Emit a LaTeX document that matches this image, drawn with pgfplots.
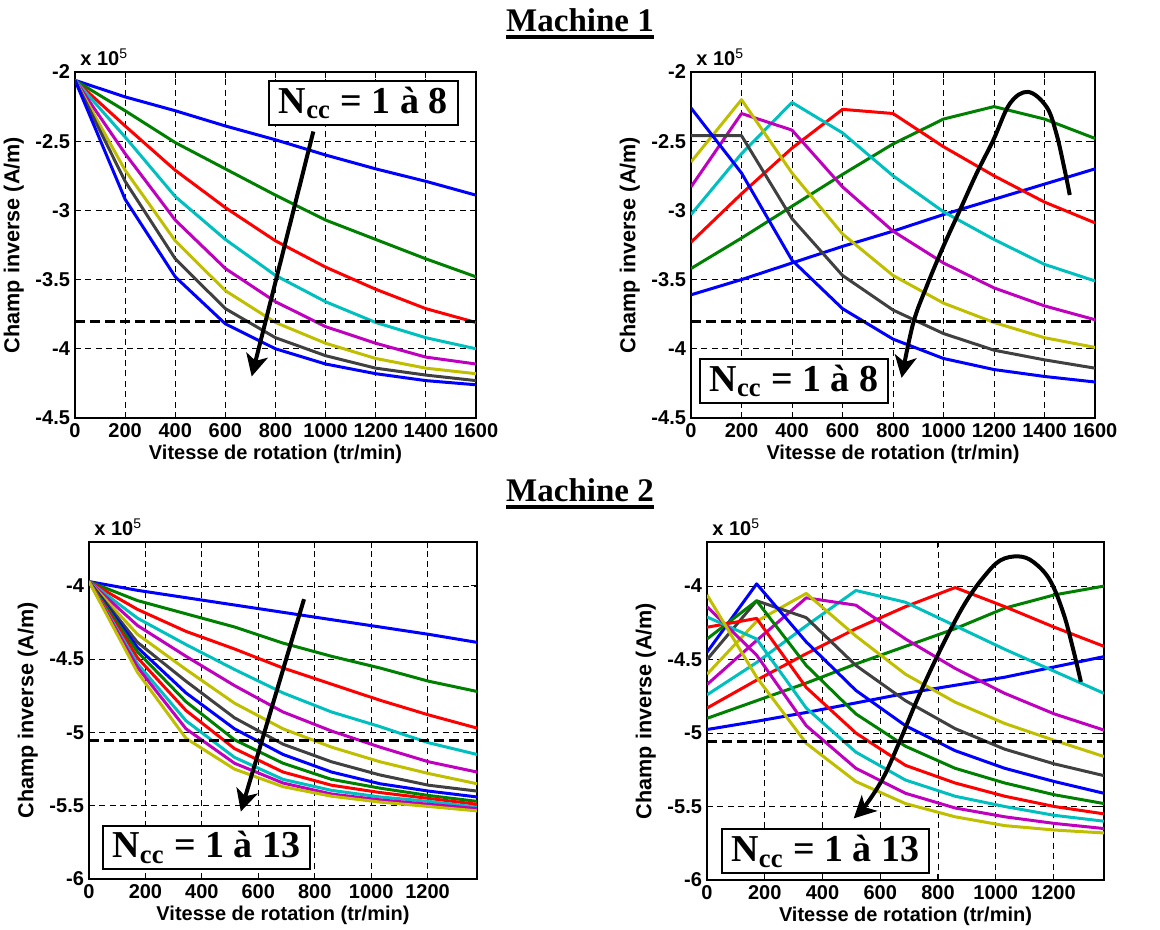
\documentclass[border=0pt]{standalone}
\usepackage{fontspec}
\setmainfont{Liberation Sans}
\newfontfamily\tnr{Liberation Serif}
\usepackage{pgfplots}
\pgfplotsset{compat=1.18}
\usepackage{pgfplotstable}
\usetikzlibrary{arrows.meta}

\definecolor{mb}{rgb}{0,0,1}
\definecolor{mg}{rgb}{0,0.5,0}
\definecolor{mr}{rgb}{1,0,0}
\definecolor{mc}{rgb}{0,0.75,0.75}
\definecolor{mm}{rgb}{0.75,0,0.75}
\definecolor{my}{rgb}{0.75,0.75,0}
\definecolor{mk}{rgb}{0.25,0.25,0.25}

\pgfplotscreateplotcyclelist{matlab}{%
{mb,line width=1.5pt},{mg,line width=1.5pt},{mr,line width=1.5pt},{mc,line width=1.5pt},%
{mm,line width=1.5pt},{my,line width=1.5pt},{mk,line width=1.5pt},{mb,line width=1.5pt},%
{mg,line width=1.5pt},{mr,line width=1.5pt},{mc,line width=1.5pt},{mm,line width=1.5pt},%
{my,line width=1.5pt}}

\pgfplotstableread{
x s1 s2 s3 s4 s5 s6 s7 s8
0    -2.06 -2.06 -2.06 -2.06 -2.06 -2.06 -2.06 -2.06
200  -2.18 -2.28 -2.39 -2.47 -2.59 -2.71 -2.79 -2.92
400  -2.28 -2.51 -2.71 -2.90 -3.07 -3.22 -3.35 -3.48
600  -2.39 -2.70 -2.98 -3.21 -3.42 -3.58 -3.71 -3.82
800  -2.49 -2.89 -3.22 -3.47 -3.66 -3.81 -3.92 -4.00
1000 -2.60 -3.07 -3.41 -3.66 -3.84 -3.96 -4.05 -4.11
1200 -2.70 -3.21 -3.57 -3.81 -3.96 -4.07 -4.14 -4.18
1400 -2.79 -3.35 -3.71 -3.92 -4.06 -4.14 -4.19 -4.23
1600 -2.89 -3.48 -3.81 -4.00 -4.11 -4.18 -4.23 -4.26
}\tabA

\pgfplotstableread{
x s1 s2 s3 s4 s5 s6 s7 s8
0    -3.61 -3.42 -3.23 -3.03 -2.83 -2.65 -2.46 -2.26
200  -3.50 -3.20 -2.88 -2.59 -2.30 -2.20 -2.46 -2.73
400  -3.38 -2.97 -2.55 -2.22 -2.42 -2.73 -3.06 -3.36
600  -3.26 -2.74 -2.27 -2.44 -2.83 -3.17 -3.47 -3.71
800  -3.15 -2.52 -2.30 -2.75 -3.15 -3.47 -3.72 -3.93
1000 -3.03 -2.34 -2.54 -3.01 -3.38 -3.67 -3.89 -4.07
1200 -2.92 -2.25 -2.75 -3.21 -3.56 -3.81 -4.01 -4.15
1400 -2.81 -2.34 -2.94 -3.39 -3.69 -3.92 -4.08 -4.20
1600 -2.70 -2.48 -3.09 -3.51 -3.79 -3.99 -4.14 -4.24
}\tabB

\pgfplotstableread{
x s1 s2 s3 s4 s5 s6 s7 s8 s9 s10 s11 s12 s13
0        -3.97 -3.97 -3.97 -3.97 -3.97 -3.97 -3.97 -3.97 -3.97 -3.97 -3.97 -3.97 -3.97
171.875  -4.03 -4.10 -4.16 -4.22 -4.27 -4.33 -4.385 -4.42 -4.45 -4.49 -4.53 -4.555 -4.59
343.75   -4.08 -4.19 -4.31 -4.40 -4.48 -4.57 -4.65 -4.73 -4.79 -4.85 -4.92 -4.975 -5.04
515.625  -4.13 -4.28 -4.43 -4.57 -4.68 -4.80 -4.90 -4.975 -5.05 -5.11 -5.17 -5.21 -5.25
687.5    -4.18 -4.39 -4.56 -4.73 -4.86 -4.975 -5.08 -5.15 -5.21 -5.27 -5.32 -5.345 -5.37
859.375  -4.23 -4.48 -4.67 -4.86 -4.99 -5.10 -5.20 -5.27 -5.32 -5.36 -5.395 -5.42 -5.435
1031.25  -4.28 -4.56 -4.78 -4.96 -5.10 -5.20 -5.29 -5.35 -5.38 -5.41 -5.44 -5.46 -5.475
1203.125 -4.33 -4.65 -4.88 -5.07 -5.20 -5.28 -5.36 -5.40 -5.43 -5.45 -5.47 -5.49 -5.505
1375     -4.385 -4.72 -4.97 -5.15 -5.27 -5.35 -5.40 -5.44 -5.47 -5.49 -5.51 -5.52 -5.535
}\tabC

\pgfplotstableread{
x s1 s2 s3 s4 s5 s6 s7 s8 s9 s10 s11 s12 s13
0        -4.976 -4.90 -4.83 -4.74 -4.67 -4.60 -4.50 -4.45 -4.36 -4.28 -4.21 -4.14 -4.06
171.875  -4.92 -4.78 -4.64 -4.52 -4.37 -4.24 -4.10 -3.985 -4.10 -4.22 -4.36 -4.47 -4.62
343.75   -4.86 -4.66 -4.46 -4.27 -4.08 -4.05 -4.215 -4.38 -4.54 -4.69 -4.83 -4.95 -5.07
515.625  -4.795 -4.53 -4.29 -4.03 -4.13 -4.34 -4.54 -4.71 -4.87 -5.00 -5.13 -5.24 -5.33
687.5    -4.73 -4.41 -4.14 -4.11 -4.36 -4.60 -4.78 -4.95 -5.09 -5.22 -5.32 -5.41 -5.48
859.375  -4.675 -4.29 -4.01 -4.27 -4.56 -4.79 -4.97 -5.12 -5.24 -5.34 -5.43 -5.51 -5.57
1031.25  -4.62 -4.15 -4.14 -4.43 -4.73 -4.935 -5.11 -5.24 -5.34 -5.43 -5.50 -5.57 -5.63
1203.125 -4.55 -4.06 -4.28 -4.58 -4.87 -5.05 -5.21 -5.33 -5.42 -5.50 -5.56 -5.615 -5.66
1375     -4.48 -4.00 -4.41 -4.73 -4.98 -5.16 -5.29 -5.41 -5.48 -5.55 -5.60 -5.65 -5.68
}\tabD

\pgfplotsset{
  mstyle/.style={
    scale only axis, anchor=south west,
    axis line style={black, line width=0.7pt},
    tick align=inside, major tick length=3pt,
    tick style={black, line width=0.5pt},
    grid=major,
    major grid style={black, line width=0.45pt, dash pattern=on 3pt off 2.2pt},
    ticklabel style={font=\bfseries\fontsize{10}{12}\selectfont},
    xlabel style={font=\bfseries\fontsize{10}{12}\selectfont, yshift=3pt},
    ylabel style={font=\bfseries\fontsize{10.8}{12}\selectfont, yshift=-1pt},
    xlabel={Vitesse de rotation (tr/min)},
    ylabel={Champ inverse (A/m)},
    xticklabel style={yshift=1pt},
    yticklabel style={xshift=1pt},
    cycle list name=matlab,
    every axis plot/.append style={no markers, line join=round},
  },
}
\tikzset{
  box/.style={draw=black, line width=1pt, fill=white, inner xsep=5pt, inner ysep=3pt,
    font=\tnr\bfseries\fontsize{19}{21}\selectfont},
  thr/.style={black, line width=1.6pt, dash pattern=on 5pt off 2.5pt},
  arr/.style={black, line width=2pt, -{Stealth[length=11pt,width=11pt,inset=3pt]}},
}

\newcommand{\xten}{{\bfseries x 10}\textsuperscript{5}}

\begin{document}
\begin{tikzpicture}
\useasboundingbox (0,0) rectangle (580pt,465pt);

% Titles
\node[anchor=base, inner sep=0pt, font=\tnr\bfseries\fontsize{16.5}{18}\selectfont] (t1) at (290pt,449pt) {Machine 1};
\draw[line width=1.7pt] ([yshift=-2.6pt]t1.base west) -- ([yshift=-2.6pt]t1.base east);
\node[anchor=base, inner sep=0pt, font=\tnr\bfseries\fontsize{16.5}{18}\selectfont] (t2) at (290pt,214pt) {Machine 2};
\draw[line width=1.7pt] ([yshift=-2.6pt]t2.base west) -- ([yshift=-2.6pt]t2.base east);

% Panel 1
\begin{axis}[mstyle, name=p1, at={(37.5pt,256pt)}, width=200.5pt, height=173pt,
  xmin=0, xmax=1600, ymin=-4.5, ymax=-2,
  xtick={0,200,400,600,800,1000,1200,1400,1600},
  xticklabels={0,200,400,600,800,1000,1200,1400,1600},
  ytick={-4.5,-4,-3.5,-3,-2.5,-2},
  yticklabels={-4.5,-4,-3.5,-3,-2.5,-2}]
\pgfplotsinvokeforeach{1,...,8}{\addplot table[x=x,y=s#1]{\tabA};}
\addplot[thr, forget plot] coordinates {(0,-3.8) (1600,-3.8)};
\draw[arr] (axis cs:951,-2.43) -- (axis cs:705,-4.20);
\node[box] at (axis cs:1150,-2.225) {N\textsubscript{cc} = 1 à 8};
\end{axis}
\node[anchor=south west, inner sep=0pt, font=\fontsize{10}{12}\selectfont] at ([xshift=2.5pt,yshift=3pt]p1.north west) {\xten};

% Panel 2
\begin{axis}[mstyle, name=p2, at={(345.5pt,256pt)}, width=202pt, height=173pt,
  xmin=0, xmax=1600, ymin=-4.5, ymax=-2,
  xtick={0,200,400,600,800,1000,1200,1400,1600},
  xticklabels={0,200,400,600,800,1000,1200,1400,1600},
  ytick={-4.5,-4,-3.5,-3,-2.5,-2},
  yticklabels={-4.5,-4,-3.5,-3,-2.5,-2}]
\pgfplotsinvokeforeach{1,...,8}{\addplot table[x=x,y=s#1]{\tabB};}
\addplot[thr, forget plot] coordinates {(0,-3.8) (1600,-3.8)};
\addplot[arr, smooth, tension=0.6, forget plot] coordinates {
(1500,-2.889) (1480,-2.709) (1447,-2.445) (1408,-2.252) (1335,-2.144) (1263,-2.228)
(1197,-2.493) (1131,-2.733) (1065,-2.998) (999,-3.262) (933,-3.550) (880,-3.815) (834,-4.21)};
\node[box] at (axis cs:408,-4.23) {N\textsubscript{cc} = 1 à 8};
\end{axis}
\node[anchor=south west, inner sep=0pt, font=\fontsize{10}{12}\selectfont] at ([xshift=2.5pt,yshift=3pt]p2.north west) {\xten};

% Panel 3
\begin{axis}[mstyle, name=p3, at={(44.5pt,25.5pt)}, width=194pt, height=168.5pt,
  xmin=0, xmax=1375, ymin=-6, ymax=-3.7,
  xtick={0,200,400,600,800,1000,1200},
  xticklabels={0,200,400,600,800,1000,1200},
  ytick={-6,-5.5,-5,-4.5,-4},
  yticklabels={-6,-5.5,-5,-4.5,-4}]
\pgfplotsinvokeforeach{1,...,13}{\addplot table[x=x,y=s#1]{\tabC};}
\addplot[thr, forget plot] coordinates {(0,-5.055) (1375,-5.055)};
\draw[arr] (axis cs:762,-4.09) -- (axis cs:538,-5.54);
\node[box] at (axis cs:416,-5.785) {N\textsubscript{cc} = 1 à 13};
\end{axis}
\node[anchor=south west, inner sep=0pt, font=\fontsize{10}{12}\selectfont] at ([xshift=2.5pt,yshift=3pt]p3.north west) {\xten};

% Panel 4
\begin{axis}[mstyle, name=p4, at={(353.5pt,25pt)}, width=198.5pt, height=169pt,
  xmin=0, xmax=1375, ymin=-6, ymax=-3.7,
  xtick={0,200,400,600,800,1000,1200},
  xticklabels={0,200,400,600,800,1000,1200},
  ytick={-6,-5.5,-5,-4.5,-4},
  yticklabels={-6,-5.5,-5,-4.5,-4}]
\pgfplotsinvokeforeach{1,...,13}{\addplot table[x=x,y=s#1]{\tabD};}
\addplot[thr, forget plot] coordinates {(0,-5.055) (1375,-5.055)};
\addplot[arr, smooth, tension=0.6, forget plot] coordinates {
(1295,-4.652) (1269,-4.437) (1235,-4.188) (1188,-3.961) (1131,-3.837) (1079,-3.798)
(1015,-3.826) (958,-3.939) (900,-4.097) (842,-4.301) (785,-4.528) (727,-4.777)
(669,-5.049) (612,-5.298) (554,-5.479) (508,-5.581)};
\node[box] at (axis cs:410,-5.805) {N\textsubscript{cc} = 1 à 13};
\end{axis}
\node[anchor=south west, inner sep=0pt, font=\fontsize{10}{12}\selectfont] at ([xshift=2.5pt,yshift=3pt]p4.north west) {\xten};
\end{tikzpicture}
\end{document}
